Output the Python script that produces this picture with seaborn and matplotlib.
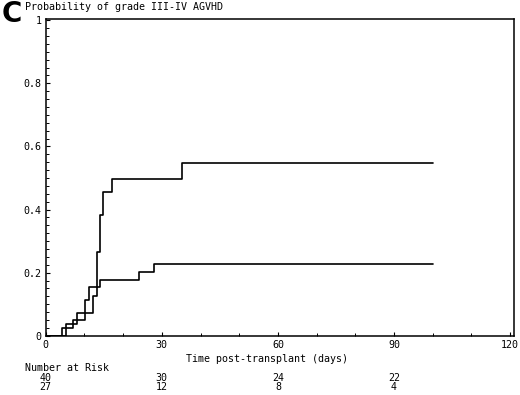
import matplotlib
matplotlib.use("Agg")
import matplotlib.pyplot as plt
import seaborn as sns
import pandas as pd
from matplotlib.ticker import MultipleLocator

# Step curves (day, cumulative probability)
days_upper = [0, 5.25, 8.0, 12.3, 13.2, 13.9, 14.9, 17.1, 35.2, 100]
prob_upper = [0, 0.037, 0.073, 0.125, 0.267, 0.383, 0.457, 0.497, 0.547, 0.547]
days_lower = [0, 4.1, 7.15, 10.25, 11.3, 13.9, 24.1, 28.1, 100]
prob_lower = [0, 0.023, 0.050, 0.113, 0.153, 0.176, 0.202, 0.228, 0.228]

# Number at risk table
risk_days = [0, 30, 60, 90]
risk_row1 = [40, 30, 24, 22]
risk_row2 = [27, 12, 8, 4]

x_ticks = [0, 30, 60, 90, 120]
y_ticks = [0, 0.2, 0.4, 0.6, 0.8, 1]
y_labels = ["0", "0.2", "0.4", "0.6", "0.8", "1"]

df = pd.concat([
    pd.DataFrame({"day": days_upper, "prob": prob_upper, "group": "upper"}),
    pd.DataFrame({"day": days_lower, "prob": prob_lower, "group": "lower"}),
])

sns.set_style("white")
plt.rcParams["font.family"] = ["DejaVu Sans Mono"]
plt.rcParams["text.color"] = "black"

fig = plt.figure(figsize=(5.2, 3.95), dpi=100)
ax = fig.add_axes([0.0879, 0.150, 0.9006, 0.8027])

sns.lineplot(data=df, x="day", y="prob", hue="group", units="group",
             estimator=None, drawstyle="steps-post", palette=["black", "black"],
             linewidth=1.2, legend=False, ax=ax)

ax.set_xlim(0, 121)
ax.set_ylim(0, 1.005)
ax.set_xticks(x_ticks)
ax.set_xticklabels([str(t) for t in x_ticks])
ax.set_yticks(y_ticks)
ax.set_yticklabels(y_labels)
ax.xaxis.set_minor_locator(MultipleLocator(10))
ax.yaxis.set_minor_locator(MultipleLocator(0.025))
ax.tick_params(axis="both", which="major", direction="in", length=3, width=0.8,
               labelsize=7.2, pad=3, colors="black")
ax.tick_params(axis="both", which="minor", direction="in", length=2, width=0.7,
               colors="black")
ax.tick_params(axis="x", which="both", bottom=True)
ax.tick_params(axis="y", which="both", left=True)
for sp in ax.spines.values():
    sp.set_color("black")
    sp.set_linewidth(1.1)
ax.set_xlabel("")
ax.set_ylabel("")

# Labels
fig.text(0.004, 1.0, "C", fontsize=20, fontweight="bold", family="DejaVu Sans",
         va="top", ha="left", color="black")
fig.text(25 / 520, 1 - 7 / 395, "Probability of grade III-IV AGVHD", fontsize=7.2,
         va="center", ha="left")
ax.text(57.3, -0.072, "Time post-transplant (days)", transform=ax.get_xaxis_transform(),
        fontsize=7.2, ha="center", va="center")
fig.text(25 / 520, 1 - 368 / 395, "Number at Risk", fontsize=7.2, va="center", ha="left")
for d, a, b in zip(risk_days, risk_row1, risk_row2):
    ax.text(d, -0.132, str(a), transform=ax.get_xaxis_transform(),
            fontsize=7.2, ha="center", va="center")
    ax.text(d, -0.162, str(b), transform=ax.get_xaxis_transform(),
            fontsize=7.2, ha="center", va="center")

fig.savefig("out.png", dpi=100)
